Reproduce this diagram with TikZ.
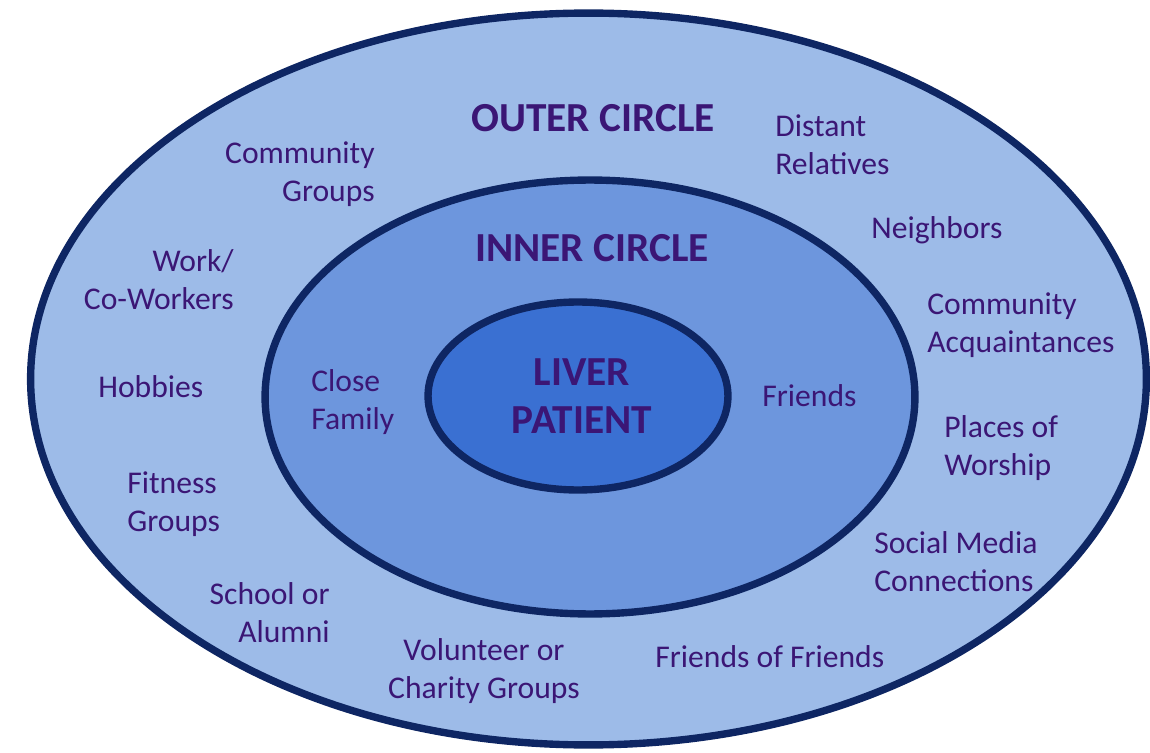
\documentclass[tikz,border=0pt]{standalone}
\usepackage{fontspec}
\setmainfont{Carlito}
\definecolor{ringline}{HTML}{0E2663}
\definecolor{outerfill}{HTML}{9DBBE8}
\definecolor{innerfill}{HTML}{6D96DD}
\definecolor{corefill}{HTML}{3A70D2}
\definecolor{labeltext}{HTML}{3B1675}
\tikzset{
  ring/.style={draw=ringline, line width=4.2pt},
  lbl/.style={text=labeltext, inner sep=0pt, font=\fontsize{18}{21.5}\selectfont},
  title/.style={text=labeltext, inner sep=0pt, font=\fontsize{23.5}{27.5}\selectfont\bfseries, align=center}
}
\begin{document}
\begin{tikzpicture}[x=0.02cm, y=-0.02cm]
\useasboundingbox (0,0) rectangle (1150,753);
\coordinate (o) at (588.5,379);
\coordinate (m) at (590,397);
\coordinate (c) at (578,396);
\draw[ring, fill=outerfill] (o) ellipse [x radius=11.16cm, y radius=7.32cm];
\draw[ring, fill=innerfill] (m) ellipse [x radius=6.5cm, y radius=4.34cm];
\draw[ring, fill=corefill] (c) ellipse [x radius=3.0cm, y radius=1.88cm];

\node[title] (outertitle) at (593,118) {OUTER CIRCLE};
\node[title] (innertitle) at (592,248) {INNER CIRCLE};
\node[title] (patient) at (582,396) {LIVER\\PATIENT};

\node[lbl, align=left, anchor=west] (distant) at (775,145) {Distant\\Relatives};
\node[lbl, align=right, anchor=east] (community) at (375,174) {Community\\Groups};
\node[lbl, align=right, anchor=east] (work) at (234,280) {Work/\\Co-Workers};
\node[lbl, anchor=west] (neighbors) at (871,230) {Neighbors};
\node[lbl, align=left, anchor=west] (acquaint) at (927,325) {Community\\Acquaintances};
\node[lbl, anchor=west] (hobbies) at (98,387) {Hobbies};
\node[lbl, align=left, anchor=west] (family) at (311,402) {Close\\Family};
\node[lbl, anchor=west] (friends) at (762,396) {Friends};
\node[lbl, align=left, anchor=west] (worship) at (944,448) {Places of\\Worship};
\node[lbl, align=left, anchor=west] (fitness) at (127,504) {Fitness\\Groups};
\node[lbl, align=left, anchor=west] (social) at (874,562) {Social Media\\Connections};
\node[lbl, align=right, anchor=east] (school) at (330,613) {School or\\Alumni};
\node[lbl, align=center] (volunteer) at (484,671) {Volunteer or\\Charity Groups};
\node[lbl, anchor=west] (fof) at (655,657) {Friends of Friends};
\end{tikzpicture}
\end{document}
